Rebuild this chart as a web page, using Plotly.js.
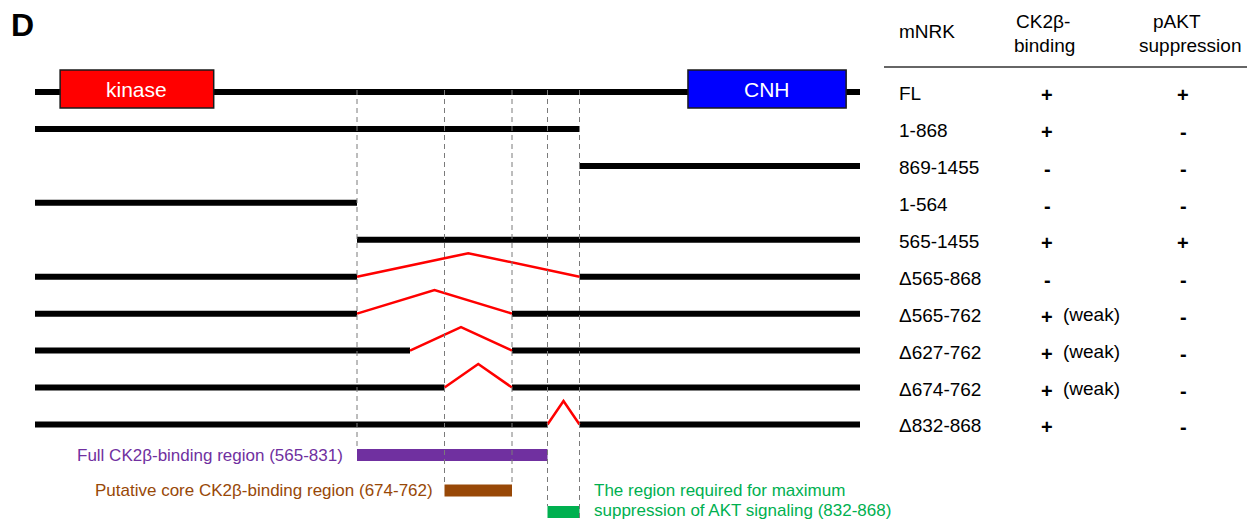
<!DOCTYPE html>
<html><head><meta charset="utf-8">
<script src="https://cdn.plot.ly/plotly-3.0.1.min.js"></script>
<style>html,body{margin:0;padding:0;background:#fff}#chart{width:1256px;height:524px}</style>
</head><body><div id="chart"></div>
<script>
// ---------------- data ----------------
const constructNames = ['FL','1-868','869-1455','1-564','565-1455','Δ565-868','Δ565-762','Δ627-762','Δ674-762','Δ832-868'];
const segStart = [[1],[1],[869],[1],[565],[1,869],[1,763],[1,763],[1,763],[1,869]];
const segEnd   = [[1455],[868],[1455],[564],[1455],[564,1455],[564,1455],[626,1455],[673,1455],[831,1455]];
const delStart = [null,null,null,null,null,565,565,627,674,832];
const delEnd   = [null,null,null,null,null,868,762,762,762,868];
const ck2bBinding = ['+','+','-','-','+','-','+','+','+','+'];
const ck2bNote    = ['','','','','','','(weak)','(weak)','(weak)',''];
const paktSuppression = ['+','-','-','-','+','-','-','-','-','-'];
const headerName = ['mNRK'];
const headerCk2b = ['CK2β-','binding'];
const headerPakt = ['pAKT','suppression'];

const domainNames = ['kinase','CNH'];
const domainStart = [45, 1096];
const domainEnd   = [314, 1427];
const domainColors = ['#FF0000','#0000FF'];

const regionLabels = ['Full CK2β-binding region (565-831)',
                      'Putative core CK2β-binding region (674-762)',
                      'The region required for maximum<br>suppression of AKT signaling (832-868)'];
const regionStart = [565, 674, 832];
const regionEnd   = [831, 762, 868];
const regionColors = ['#7030A0','#984807','#00B050'];

const guideResidues = [565, 674, 763, 832, 869];

// ---------------- schematic layout (not to scale) ----------------
const scaleRes = [1, 565, 627, 674, 763, 832, 869, 1456];
const scalePos = [35, 357, 410, 444.5, 512, 547.5, 579.5, 860];
function rx(r){
  for (let i=0;i<scaleRes.length-1;i++){
    if (r<=scaleRes[i+1]) return scalePos[i]+(r-scaleRes[i])/(scaleRes[i+1]-scaleRes[i])*(scalePos[i+1]-scalePos[i]);
  }
  return scalePos[scalePos.length-1];
}
const ROW0 = 92, ROWH = 36.94;
function ry(i){ return ROW0 + i*ROWH; }
const regionY = [455, 490.5, 512];
const regionSide = ['left','left','right'];
const regionGap = [14, 11.5, 12.5];
const BAR = 12;
const FONT = 'Liberation Sans, Arial, Helvetica, sans-serif';

const traces = [];
const shapes = [];
const ann = [];

// construct backbones
const bx=[], by=[];
constructNames.forEach((n,i)=>{
  segStart[i].forEach((s,k)=>{
    bx.push(rx(s), rx(segEnd[i][k]+1), null);
    by.push(ry(i), ry(i), null);
  });
});
traces.push({type:'scatter',mode:'lines',x:bx,y:by,line:{color:'#000',width:6},hoverinfo:'skip',showlegend:false});

// deletion junctions
const dx=[], dy=[];
constructNames.forEach((n,i)=>{
  if (delStart[i]===null) return;
  const a=rx(delStart[i]), b=rx(delEnd[i]+1);
  dx.push(a,(a+b)/2,b,null);
  dy.push(ry(i), ry(i)-23.5, ry(i), null);
});
traces.push({type:'scatter',mode:'lines',x:dx,y:dy,line:{color:'#FF0000',width:2.5},hoverinfo:'skip',showlegend:false});

// region bars and labels
regionLabels.forEach((lab,j)=>{
  const a=rx(regionStart[j]), b=rx(regionEnd[j]+1);
  traces.push({type:'scatter',mode:'lines',x:[a,b],y:[regionY[j],regionY[j]],line:{color:regionColors[j],width:BAR},hoverinfo:'skip',showlegend:false});
  const lines = lab.split('<br>');
  lines.forEach((t,k)=>{
    const isRight = regionSide[j]==='right';
    ann.push({x: isRight ? b+regionGap[j] : a-regionGap[j]+1.5,
      y: lines.length>1 ? regionY[j]-22+k*20 : regionY[j],
      xref:'x',yref:'y',text:t,showarrow:false,
      xanchor: isRight?'left':'right',yanchor:'middle',
      font:{family:FONT,size:17,color:regionColors[j]}});
  });
});

// dashed guides
guideResidues.forEach(g=>{
  let bottom = ry(0);
  regionStart.forEach((s,j)=>{
    if (s===g || regionEnd[j]+1===g){
      let yb = regionY[j]-BAR/2;
      if (regionEnd[j]+1===g && j===regionStart.length-1) yb = regionY[j]+BAR/2;
      bottom = Math.max(bottom, yb);
    }
  });
  shapes.push({type:'line',xref:'x',yref:'y',x0:rx(g),x1:rx(g),y0:ry(0)-2,y1:bottom,
    line:{color:'#7a7a7a',width:1,dash:'5px,4px'},layer:'above'});
});

// domains
domainNames.forEach((d,j)=>{
  const a=rx(domainStart[j]), b=rx(domainEnd[j]);
  shapes.push({type:'rect',xref:'x',yref:'y',x0:a,x1:b,y0:70,y1:108,
    fillcolor:domainColors[j],line:{color:'#1a1a1a',width:1.5},layer:'above'});
  ann.push({x:(a+b)/2,y:89,xref:'x',yref:'y',text:d,showarrow:false,xanchor:'center',yanchor:'middle',
    font:{family:FONT,size:21,color:'#fff'}});
});

// table
const COL_LABEL=897, COL_CK=1047, COL_NOTE=1061, COL_PAKT=1183;
const symFont = {family:FONT,size:20,color:'#000',weight:'bold'};
constructNames.forEach((n,i)=>{
  ann.push({x:COL_LABEL,y:ry(i)+1.5,xref:'x',yref:'y',text:n,showarrow:false,xanchor:'left',yanchor:'middle',font:{family:FONT,size:19,color:'#000'}});
  ann.push({x:COL_CK,y:ry(i)+3,xref:'x',yref:'y',text:ck2bBinding[i],showarrow:false,xanchor:'center',yanchor:'middle',font:symFont});
  if (ck2bNote[i]) ann.push({x:COL_NOTE,y:ry(i)+1,xref:'x',yref:'y',text:ck2bNote[i],showarrow:false,xanchor:'left',yanchor:'middle',font:{family:FONT,size:19,color:'#000'}});
  ann.push({x:COL_PAKT,y:ry(i)+3,xref:'x',yref:'y',text:paktSuppression[i],showarrow:false,xanchor:'center',yanchor:'middle',font:symFont});
});
ann.push({x:COL_LABEL,y:31,xref:'x',yref:'y',text:headerName[0],showarrow:false,xanchor:'left',yanchor:'middle',font:{family:FONT,size:19,color:'#000'}});
[[headerCk2b,[1043,1044]],[headerPakt,[1177,1190]]].forEach(([h,xs])=>{
  h.forEach((t,k)=>{
    ann.push({x:xs[k],y:21+k*24,xref:'x',yref:'y',text:t,showarrow:false,xanchor:'center',yanchor:'middle',font:{family:FONT,size:19,color:'#000'}});
  });
});
shapes.push({type:'line',xref:'x',yref:'y',x0:884,x1:1247,y0:67,y1:67,line:{color:'#333',width:1.5}});

// panel letter
ann.push({x:9,y:25,xref:'x',yref:'y',text:'D',showarrow:false,xanchor:'left',yanchor:'middle',font:{family:FONT,size:32,color:'#000',weight:'bold'}});

const layout = {
  width:1256,height:524,margin:{l:0,r:0,t:0,b:0},
  paper_bgcolor:'#fff',plot_bgcolor:'#fff',
  xaxis:{range:[0,1256],visible:false,fixedrange:true},
  yaxis:{range:[524,0],visible:false,fixedrange:true},
  shapes:shapes,annotations:ann,showlegend:false,hovermode:false
};
Plotly.newPlot('chart',traces,layout,{staticPlot:true,displayModeBar:false});
</script></body></html>
